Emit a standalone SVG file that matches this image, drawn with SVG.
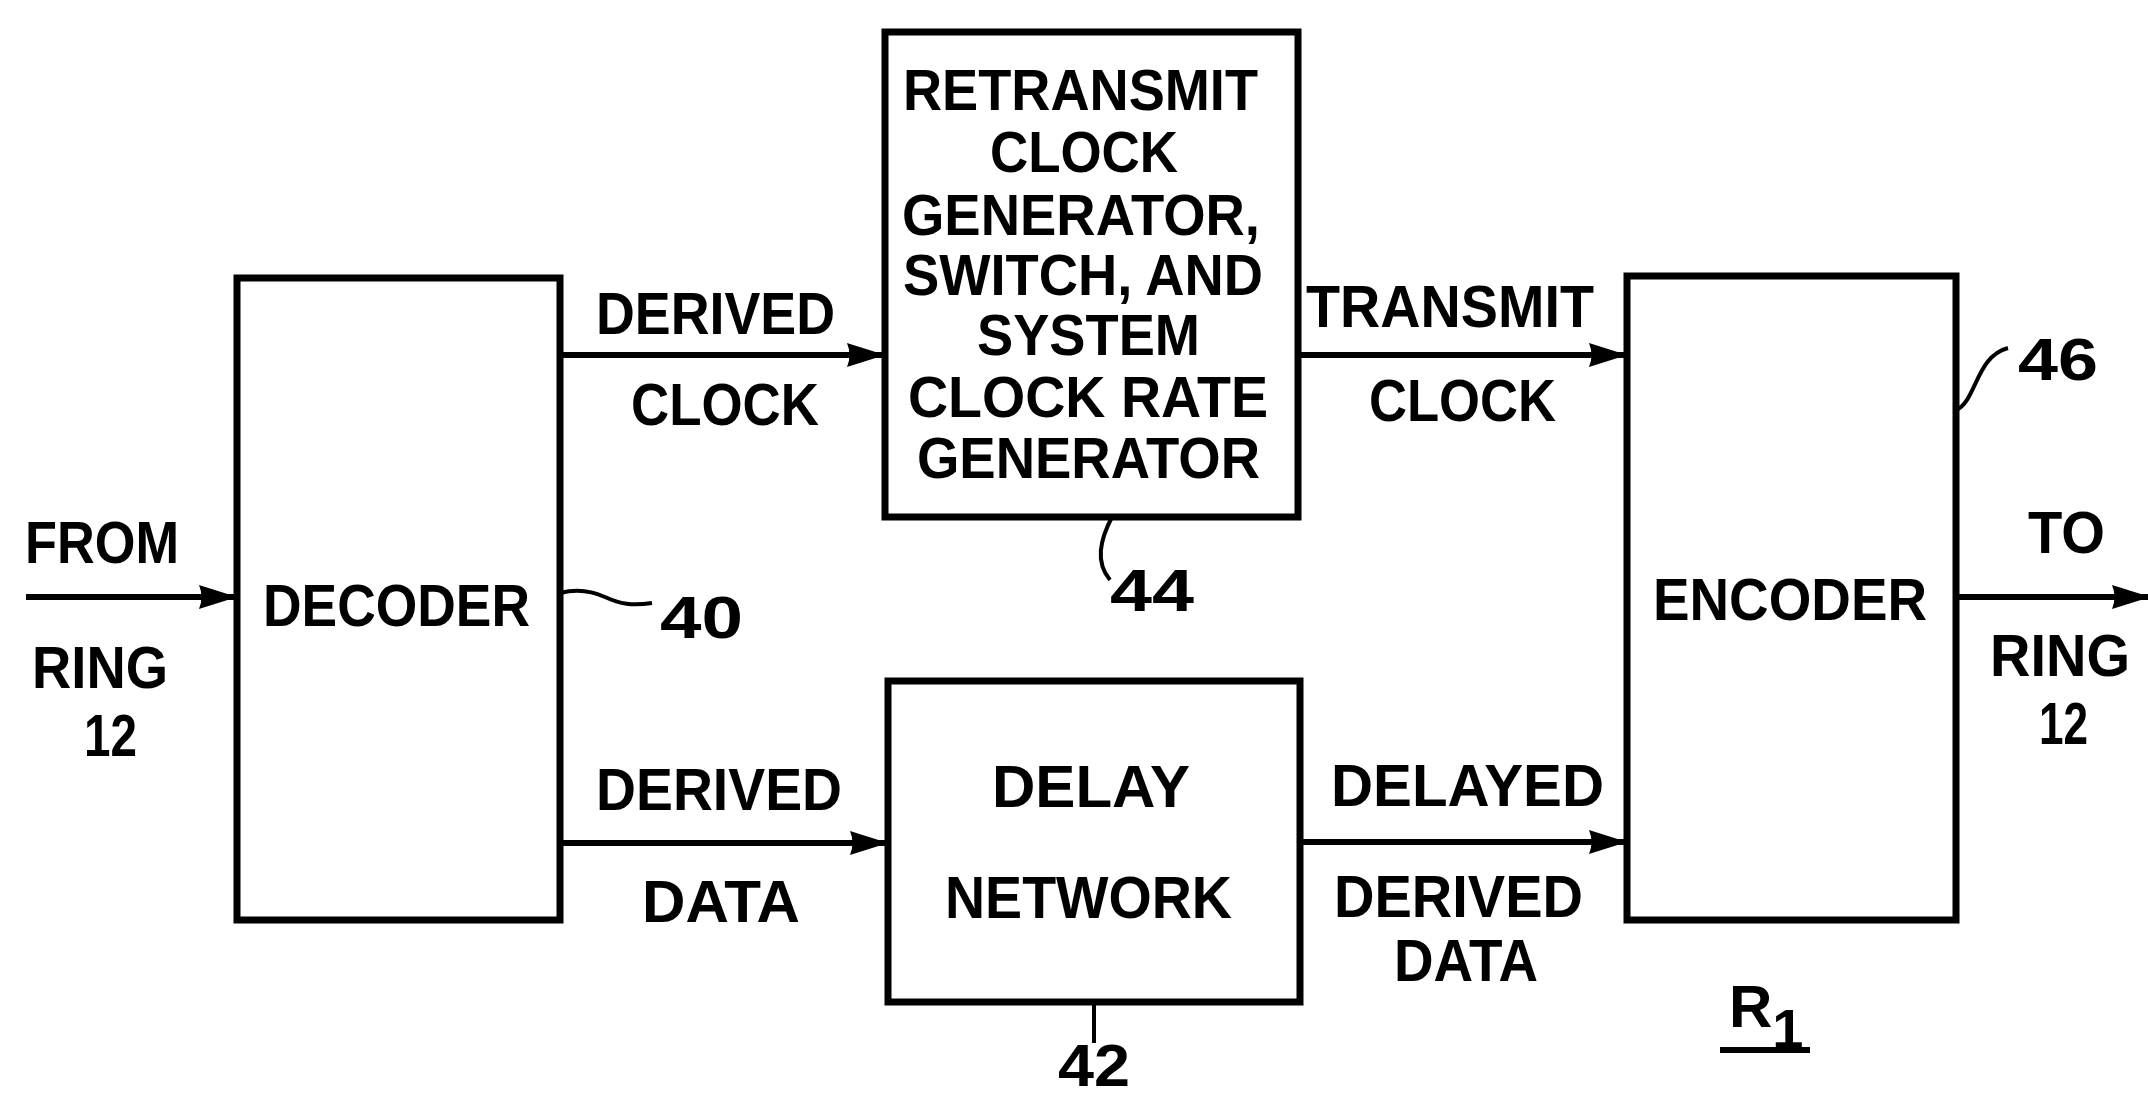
<svg xmlns="http://www.w3.org/2000/svg" width="2148" height="1099" viewBox="0 0 2148 1099">
<defs>
<style>
.box{fill:#fff;stroke:#000;stroke-width:7}
.ln{fill:none;stroke:#000;stroke-width:6}
.ld{fill:none;stroke:#000;stroke-width:4}
text{font-family:"Liberation Sans",Arial,sans-serif;font-weight:bold;font-size:60px;fill:#000}
.in{font-size:58px}
</style>
<marker id="ah" markerUnits="userSpaceOnUse" markerWidth="42" markerHeight="28" refX="38" refY="13" orient="auto">
<path d="M0,1 L38,13 L0,25 Q5,13 0,1 z" fill="#000"/>
</marker>
</defs>
<rect width="2148" height="1099" fill="#fff"/>

<g id="connectors">
<line class="ln" x1="26" y1="597" x2="237" y2="597" marker-end="url(#ah)"/>
<line class="ln" x1="560" y1="355" x2="885" y2="355" marker-end="url(#ah)"/>
<line class="ln" x1="560" y1="843" x2="888" y2="843" marker-end="url(#ah)"/>
<line class="ln" x1="1298" y1="355" x2="1627" y2="355" marker-end="url(#ah)"/>
<line class="ln" x1="1300" y1="842" x2="1627" y2="842" marker-end="url(#ah)"/>
<line class="ln" x1="1956" y1="597" x2="2150" y2="597" marker-end="url(#ah)"/>
<path class="ld" d="M560,593 C575,589 590,590 605,597 S632,606 652,603"/>
<path class="ld" d="M1112,517 C1100,540 1095,562 1110,580"/>
<path class="ld" d="M1094,1004 L1094,1043"/>
<path class="ld" d="M1956,410 C1976,402 1976,356 2008,348"/>
</g>

<g id="decoder">
<rect class="box" x="237" y="278" width="323" height="642"/>
<text x="263" y="626" textLength="267" lengthAdjust="spacingAndGlyphs">DECODER</text>
<text x="660" y="638" textLength="83" lengthAdjust="spacingAndGlyphs">40</text>
</g>

<g id="retransmit">
<rect class="box" x="885" y="32" width="413" height="485"/>
<text class="in" x="903" y="110" textLength="355" lengthAdjust="spacingAndGlyphs">RETRANSMIT</text>
<text class="in" x="990" y="172" textLength="188" lengthAdjust="spacingAndGlyphs">CLOCK</text>
<text class="in" x="902" y="235" textLength="358" lengthAdjust="spacingAndGlyphs">GENERATOR,</text>
<text class="in" x="903" y="295" textLength="360" lengthAdjust="spacingAndGlyphs">SWITCH, AND</text>
<text class="in" x="977" y="355" textLength="223" lengthAdjust="spacingAndGlyphs">SYSTEM</text>
<text class="in" x="908" y="417" textLength="360" lengthAdjust="spacingAndGlyphs">CLOCK RATE</text>
<text class="in" x="917" y="478" textLength="343" lengthAdjust="spacingAndGlyphs">GENERATOR</text>
<text x="1110" y="611" textLength="84" lengthAdjust="spacingAndGlyphs">44</text>
</g>

<g id="delay">
<rect class="box" x="888" y="681" width="412" height="321"/>
<text x="992" y="807" textLength="198" lengthAdjust="spacingAndGlyphs">DELAY</text>
<text x="945" y="918" textLength="287" lengthAdjust="spacingAndGlyphs">NETWORK</text>
<text x="1058" y="1086" font-size="56" textLength="72" lengthAdjust="spacingAndGlyphs">42</text>
</g>

<g id="encoder">
<rect class="box" x="1627" y="276" width="329" height="644"/>
<text x="1653" y="620" textLength="274" lengthAdjust="spacingAndGlyphs">ENCODER</text>
<text x="2018" y="380" textLength="80" lengthAdjust="spacingAndGlyphs">46</text>
</g>

<g id="labels">
<text x="596" y="334" textLength="239" lengthAdjust="spacingAndGlyphs">DERIVED</text>
<text x="631" y="425" textLength="188" lengthAdjust="spacingAndGlyphs">CLOCK</text>
<text x="1306" y="327" textLength="288" lengthAdjust="spacingAndGlyphs">TRANSMIT</text>
<text x="1369" y="421" textLength="187" lengthAdjust="spacingAndGlyphs">CLOCK</text>
<text x="25" y="563" textLength="154" lengthAdjust="spacingAndGlyphs">FROM</text>
<text x="32" y="688" textLength="136" lengthAdjust="spacingAndGlyphs">RING</text>
<text x="84" y="756" textLength="53" lengthAdjust="spacingAndGlyphs">12</text>
<text x="2028" y="553" textLength="77" lengthAdjust="spacingAndGlyphs">TO</text>
<text x="1990" y="676" textLength="140" lengthAdjust="spacingAndGlyphs">RING</text>
<text x="2039" y="744" textLength="49" lengthAdjust="spacingAndGlyphs">12</text>
<text x="596" y="810" textLength="246" lengthAdjust="spacingAndGlyphs">DERIVED</text>
<text x="642" y="922" textLength="158" lengthAdjust="spacingAndGlyphs">DATA</text>
<text x="1331" y="806" textLength="273" lengthAdjust="spacingAndGlyphs">DELAYED</text>
<text x="1334" y="917" textLength="249" lengthAdjust="spacingAndGlyphs">DERIVED</text>
<text x="1394" y="981" textLength="144" lengthAdjust="spacingAndGlyphs">DATA</text>
<text x="1729" y="1027">R<tspan dy="21" font-size="56">1</tspan></text>
<line class="ln" x1="1720" y1="1050" x2="1810" y2="1050"/>
</g>
</svg>
